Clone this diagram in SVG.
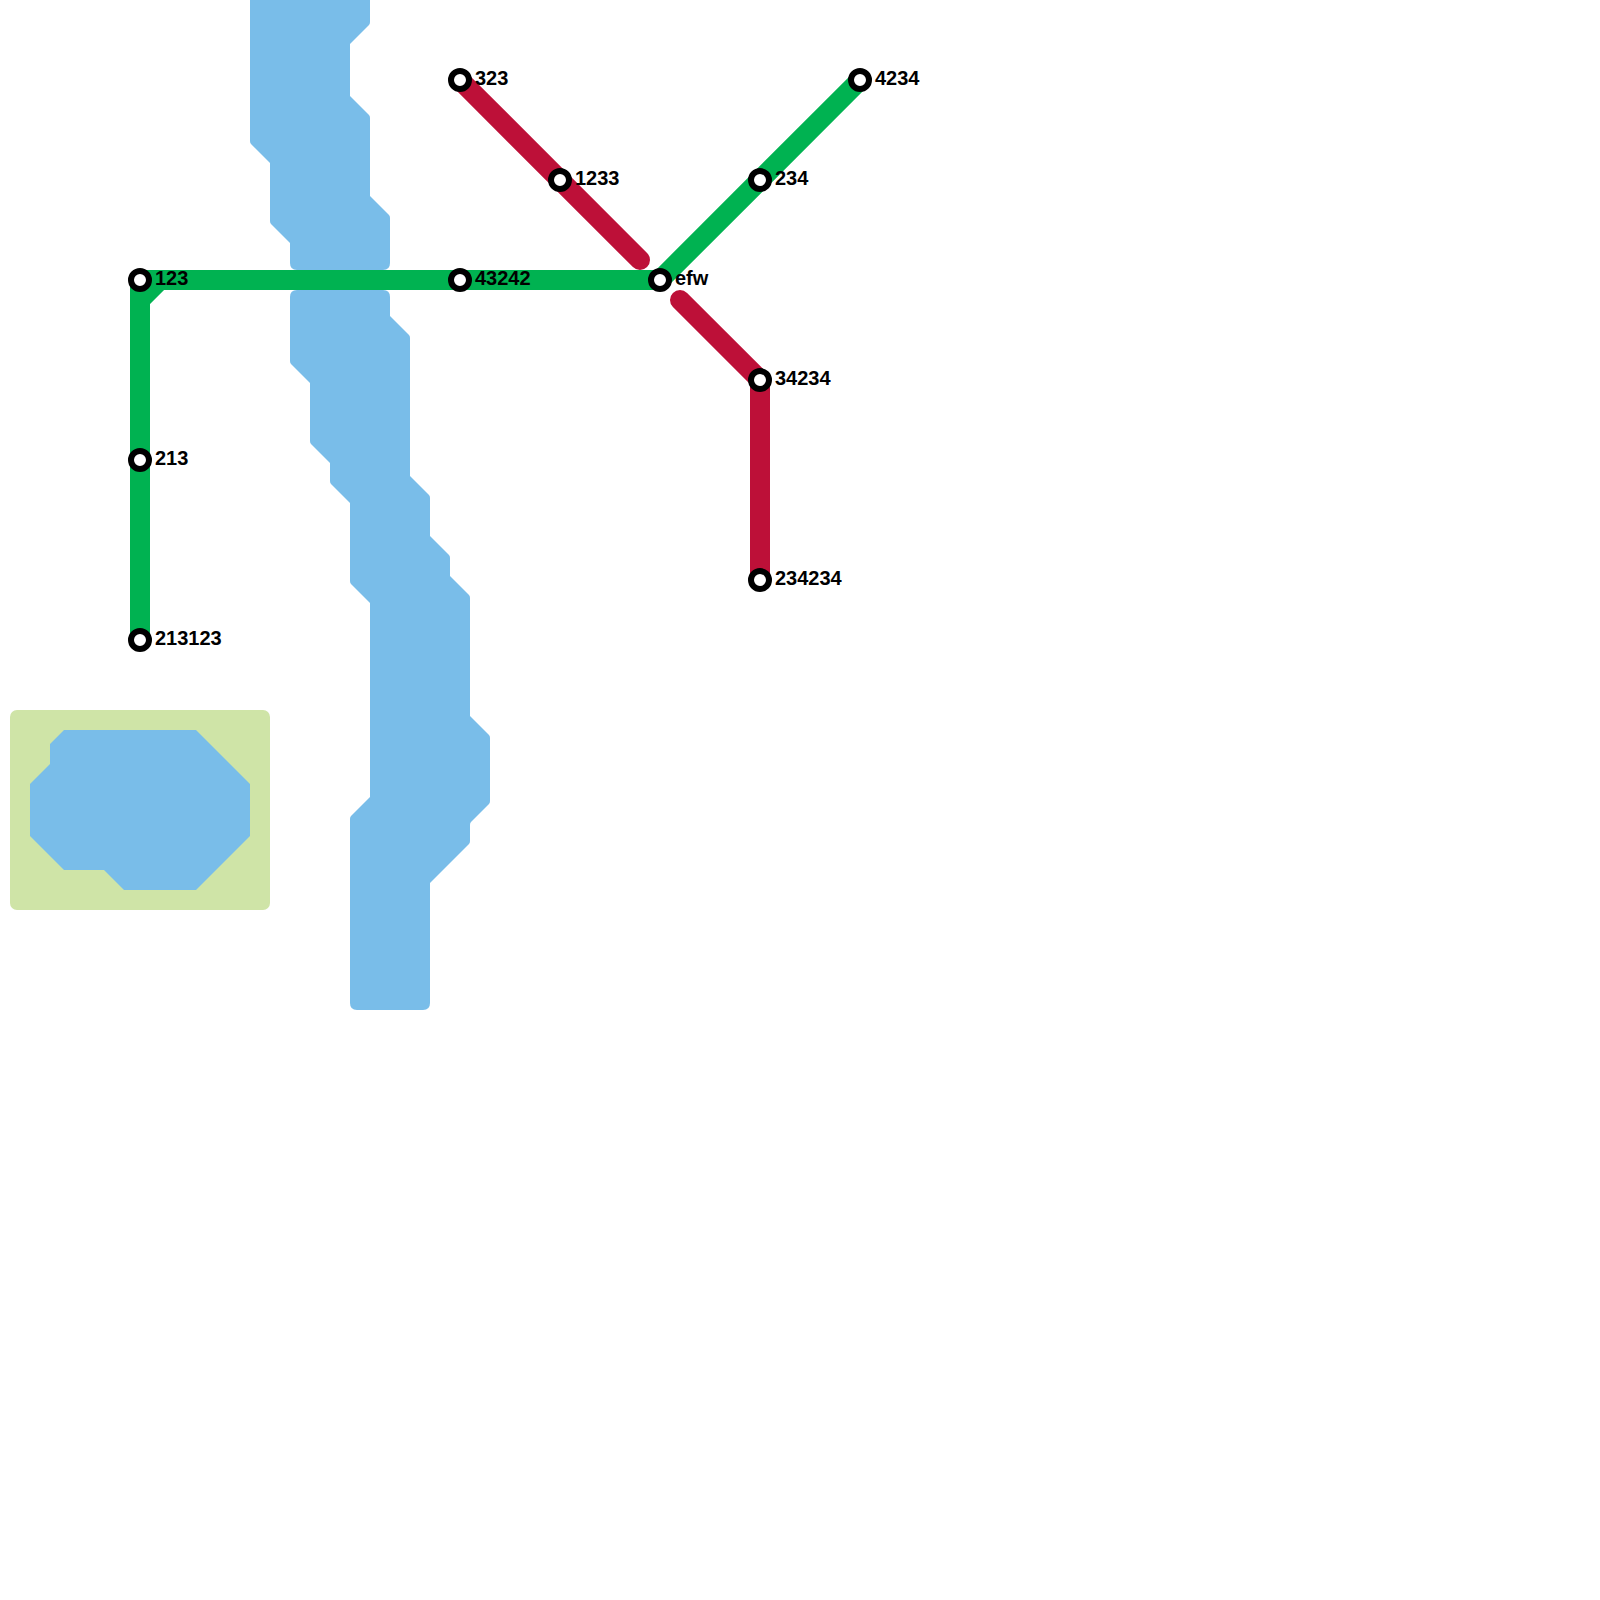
<svg xmlns="http://www.w3.org/2000/svg" width="1600" height="1600" viewBox="0 0 1600 1600">
<style>
.land{fill:#cfe4a7}
.water{fill:#79bde9}
.line{fill:none;stroke-width:20;stroke-linejoin:round}
.green{stroke:#00b251}
.red{stroke:#bd1038}
.st{fill:#fff;stroke:#000;stroke-width:6}
.lb{font-family:"Liberation Sans",Arial,sans-serif;font-size:20px;font-weight:700;fill:#000}
</style>
<rect width="1600" height="1600" fill="#fff"/>
<g id="terrain">
<rect class="land" x="10" y="710" width="260" height="200" rx="7"/>
<path class="water" d="M64 730H196L250 784V836L196 890H124L104 870H64L30 836V784L50 764V744Z"/>
<path class="water" d="M250 0H370V22Q370 24 369 25L350 44V96L369 115Q370 116 370 118V196L389 215Q390 216 390 218V263Q390 270 383 270H297Q290 270 290 263V243L271 224Q270 223 270 221V163L251 144Q250 143 250 141Z"/>
<path class="water" d="M297 290H383Q390 290 390 297V316L409 335Q410 336 410 338V476L429 495Q430 496 430 498V536L449 555Q450 556 450 558V576L469 595Q470 596 470 598V716L489 735Q490 736 490 738V801Q490 803 489 804L471 822Q470 823 470 825V841Q470 843 469 844L430 883V1003Q430 1010 423 1010H357Q350 1010 350 1003V819Q350 817 351 816L370 797V603L351 584Q350 583 350 581V503L331 484Q330 483 330 481V463L311 444Q310 443 310 441V383L291 364Q290 363 290 361V297Q290 290 297 290Z"/>
</g>
<g id="connectors">
<path class="line green" d="M140 640V280H660L860 80"/>
<path class="line green" d="M140 300L160 280"/>
<path class="line red" stroke-linecap="round" d="M460 80L640 260"/>
<path class="line red" stroke-linecap="round" d="M680 300L760 380V580"/>
</g>
<g id="station-123"><circle class="st" cx="140" cy="280" r="9"/><text class="lb" x="155" y="285">123</text></g>
<g id="station-213"><circle class="st" cx="140" cy="460" r="9"/><text class="lb" x="155" y="465">213</text></g>
<g id="station-213123"><circle class="st" cx="140" cy="640" r="9"/><text class="lb" x="155" y="645">213123</text></g>
<g id="station-43242"><circle class="st" cx="460" cy="280" r="9"/><text class="lb" x="475" y="285">43242</text></g>
<g id="station-323"><circle class="st" cx="460" cy="80" r="9"/><text class="lb" x="475" y="85">323</text></g>
<g id="station-1233"><circle class="st" cx="560" cy="180" r="9"/><text class="lb" x="575" y="185">1233</text></g>
<g id="station-efw"><circle class="st" cx="660" cy="280" r="9"/><text class="lb" x="675" y="285">efw</text></g>
<g id="station-234"><circle class="st" cx="760" cy="180" r="9"/><text class="lb" x="775" y="185">234</text></g>
<g id="station-4234"><circle class="st" cx="860" cy="80" r="9"/><text class="lb" x="875" y="85">4234</text></g>
<g id="station-34234"><circle class="st" cx="760" cy="380" r="9"/><text class="lb" x="775" y="385">34234</text></g>
<g id="station-234234"><circle class="st" cx="760" cy="580" r="9"/><text class="lb" x="775" y="585">234234</text></g>
</svg>
